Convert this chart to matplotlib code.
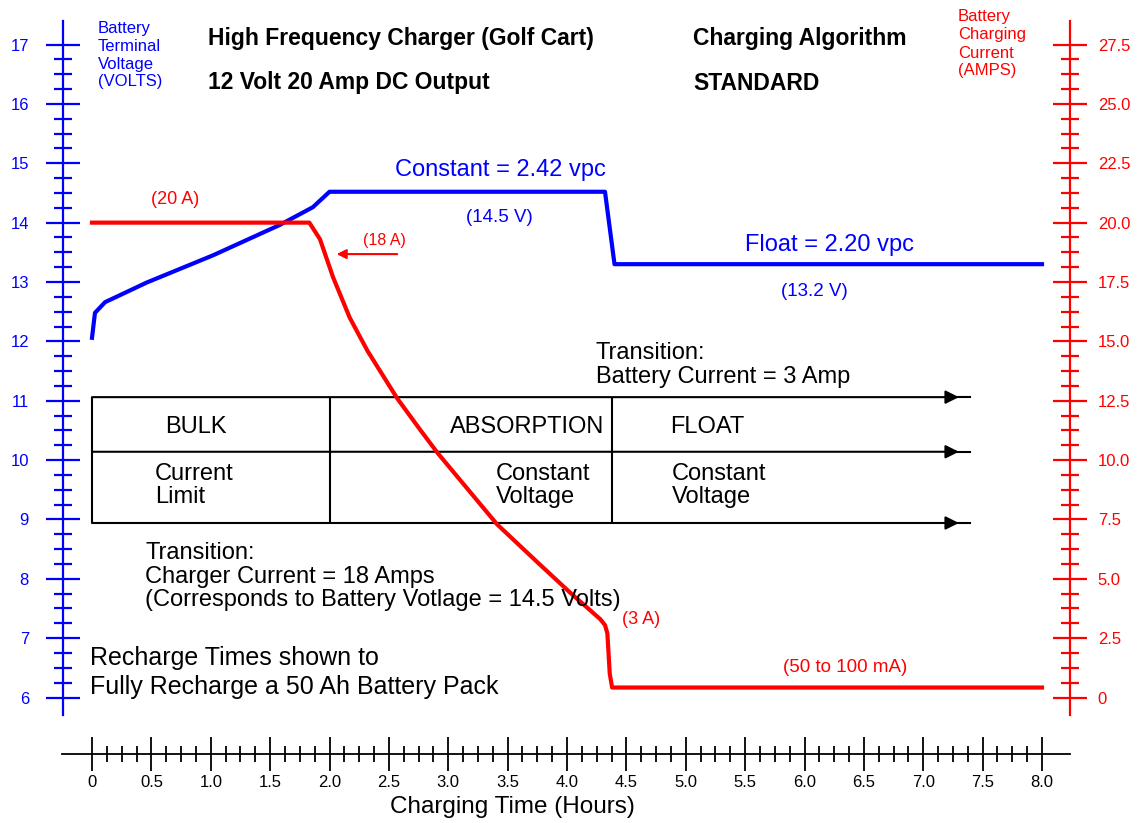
import numpy as np
import matplotlib
matplotlib.use("Agg")
import matplotlib.pyplot as plt

plt.rcParams['font.family'] = ['Liberation Sans', 'DejaVu Sans']

# ---------------- data ----------------
# Battery terminal voltage (V) vs charging time (h)
time_v = [0.0, 0.025, 0.11, 0.46, 1.02, 1.58, 1.86, 2.0, 4.32, 4.40, 8.0]
volts = [12.06, 12.48, 12.66, 12.99, 13.45, 13.96, 14.26, 14.52, 14.52, 13.30, 13.30]

# Battery charging current (A) vs charging time (h)
time_i = [0.0, 1.83, 1.92, 2.03, 2.17, 2.32, 2.57, 2.76, 2.91, 3.41, 3.75,
          4.03, 4.28, 4.32, 4.34, 4.36, 4.38, 8.0]
amps = [20.0, 20.0, 19.3, 17.7, 16.0, 14.6, 12.6, 11.3, 10.3, 7.3, 5.7,
        4.4, 3.3, 3.05, 2.7, 1.0, 0.42, 0.42]

volt_ticks = [6, 7, 8, 9, 10, 11, 12, 13, 14, 15, 16, 17]
amp_ticks = [0, 2.5, 5.0, 7.5, 10.0, 12.5, 15.0, 17.5, 20.0, 22.5, 25.0, 27.5]
amp_labels = ['0', '2.5', '5.0', '7.5', '10.0', '12.5', '15.0', '17.5',
              '20.0', '22.5', '25.0', '27.5']
time_ticks = [0, 0.5, 1.0, 1.5, 2.0, 2.5, 3.0, 3.5, 4.0, 4.5, 5.0, 5.5, 6.0,
              6.5, 7.0, 7.5, 8.0]
time_labels = ['0', '0.5', '1.0', '1.5', '2.0', '2.5', '3.0', '3.5', '4.0',
               '4.5', '5.0', '5.5', '6.0', '6.5', '7.0', '7.5', '8.0']

BLUE = '#0000ff'
RED = '#ff0000'

# ---------------- figure ----------------
W, H = 1143, 823
fig = plt.figure(figsize=(W / 100, H / 100), dpi=100)
fig.patch.set_facecolor('white')

V0, V1 = 4.5, 17.7
ax = fig.add_axes([0.018154, 0.04430, 0.955818, 0.95205])
ax.set_xlim(-0.6, 8.6)
ax.set_ylim(V0, V1)
ax.patch.set_visible(False)

ax2 = ax.twinx()
ax2.set_ylim((V0 - 6) * 2.5, (V1 - 6) * 2.5)

for s in ['top', 'right']:
    ax.spines[s].set_visible(False)
for s in ['top', 'left', 'bottom']:
    ax2.spines[s].set_visible(False)

# left (voltage) axis
ax.spines['left'].set_position(('data', -0.244))
ax.spines['left'].set_bounds(5.7, 17.4)
ax.spines['left'].set_color(BLUE)
ax.spines['left'].set_linewidth(1.6)
ax.set_yticks(volt_ticks)
ax.set_yticklabels([str(v) for v in volt_ticks])
ax.set_yticks([v + k * 0.25 for v in volt_ticks[:-1] for k in (1, 2, 3)], minor=True)
ax.tick_params(axis='y', which='major', direction='inout', length=25, width=1.6,
               color=BLUE, labelcolor=BLUE, labelsize=12, pad=12)
ax.tick_params(axis='y', which='minor', direction='inout', length=13, width=1.6,
               color=BLUE)

# bottom (time) axis
ax.spines['bottom'].set_position(('data', 5.048))
ax.spines['bottom'].set_bounds(-0.25, 8.24)
ax.spines['bottom'].set_color('black')
ax.spines['bottom'].set_linewidth(1.3)
ax.set_xticks(time_ticks)
ax.set_xticklabels(time_labels)
ax.set_xticks([t + k * 0.125 for t in time_ticks[:-1] for k in (1, 2, 3)], minor=True)
ax.tick_params(axis='x', which='major', direction='inout', length=24, width=1.3,
               color='black', labelcolor='black', labelsize=12, pad=3)
ax.tick_params(axis='x', which='minor', direction='inout', length=12, width=1.3,
               color='black')

# right (current) axis
ax2.spines['right'].set_position(('data', 8.236))
ax2.spines['right'].set_bounds(-0.75, 28.5)
ax2.spines['right'].set_color(RED)
ax2.spines['right'].set_linewidth(1.6)
ax2.set_yticks(amp_ticks)
ax2.set_yticklabels(amp_labels)
ax2.set_yticks([a + k * 0.625 for a in amp_ticks[:-1] for k in (1, 2, 3)], minor=True)
ax2.tick_params(axis='y', which='major', direction='inout', length=24, width=1.6,
                color=RED, labelcolor=RED, labelsize=12, pad=8)
ax2.tick_params(axis='y', which='minor', direction='inout', length=13, width=1.6,
                color=RED)

# ---------------- phase table ----------------
row_v = [11.06, 10.14, 8.94]
col_t = [0.0, 2.0, 4.38]
arrow_tip, line_end = 7.30, 7.39
for c in col_t:
    ax.plot([c, c], [row_v[2], row_v[0]], color='black', lw=1.5,
            solid_capstyle='butt')
for r in row_v:
    ax.annotate('', xy=(arrow_tip, r), xytext=(0.0, r),
                arrowprops=dict(arrowstyle='-|>', color='black', lw=1.5,
                                mutation_scale=20, shrinkA=0, shrinkB=0))
    ax.plot([arrow_tip - 0.05, line_end], [r, r], color='black', lw=1.5)

# ---------------- curves ----------------
ax.plot(time_v, volts, color=BLUE, lw=3, solid_joinstyle='round')
ax2.plot(time_i, amps, color=RED, lw=3, solid_joinstyle='round')

# red arrow pointing at the 18 A transition
ax.annotate('', xy=(2.06, 13.47), xytext=(2.57, 13.47),
            arrowprops=dict(arrowstyle='-|>', color=RED, lw=1.5,
                            mutation_scale=14, shrinkA=0, shrinkB=0))


# ---------------- texts (pixel layout) ----------------
def txt(px, py, s, size, color='black', weight='normal', ha='left'):
    fig.text(px / W, 1 - py / H, s, fontsize=size, color=color,
             fontweight=weight, ha=ha, va='center')


txt(208, 38, 'High Frequency Charger (Golf Cart)', 16.5, weight='bold')
txt(208, 83, '12 Volt 20 Amp DC Output', 16.5, weight='bold')
txt(693, 38, 'Charging Algorithm', 16.5, weight='bold')
txt(693, 83, 'STANDARD', 16.5, weight='bold')

for i, s in enumerate(['Battery', 'Terminal', 'Voltage', '(VOLTS)']):
    txt(98, 29 + 17.5 * i, s, 12, color=BLUE)
for i, s in enumerate(['Battery', 'Charging', 'Current', '(AMPS)']):
    txt(958, 17 + 18 * i, s, 12, color=RED)

txt(395, 170, 'Constant = 2.42 vpc', 17, color=BLUE)
txt(466, 218, '(14.5 V)', 13.5, color=BLUE)
txt(745, 245, 'Float = 2.20 vpc', 17, color=BLUE)
txt(781, 291, '(13.2 V)', 13.5, color=BLUE)

txt(151, 200, '(20 A)', 13, color=RED)
txt(384, 240, '(18 A)', 11.5, color=RED, ha='center')
txt(622, 620, '(3 A)', 13, color=RED)
txt(783, 668, '(50 to 100 mA)', 13.5, color=RED)

txt(596, 353, 'Transition:', 17)
txt(596, 377, 'Battery Current = 3 Amp', 17)

txt(165, 427, 'BULK', 17)
txt(450, 427, 'ABSORPTION', 17)
txt(670, 427, 'FLOAT', 17)
txt(155, 474, 'Current', 17)
txt(155, 497, 'Limit', 17)
txt(496, 474, 'Constant', 17)
txt(496, 497, 'Voltage', 17)
txt(672, 474, 'Constant', 17)
txt(672, 497, 'Voltage', 17)

txt(145, 553, 'Transition:', 17)
txt(145, 577, 'Charger Current = 18 Amps', 17)
txt(145, 600, '(Corresponds to Battery Votlage = 14.5 Volts)', 17)

txt(90, 658, 'Recharge Times shown to', 18)
txt(90, 687, 'Fully Recharge a 50 Ah Battery Pack', 18)

txt(512, 807, 'Charging Time (Hours)', 17.5, ha='center')

fig.savefig('out.png', dpi=100, facecolor='white')
